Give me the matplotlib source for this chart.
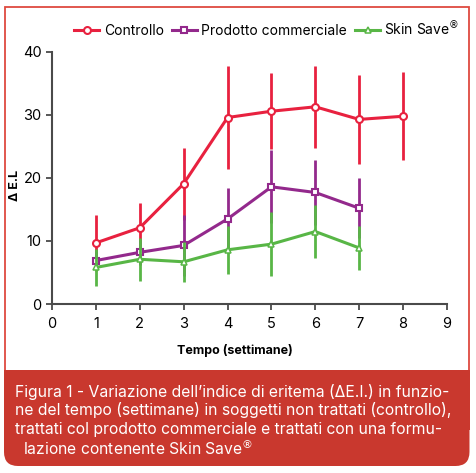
import numpy as np
import matplotlib.pyplot as plt
from matplotlib.patches import Rectangle, FancyBboxPatch
from matplotlib.lines import Line2D

plt.rcParams['font.family'] = ['Inter', 'DejaVu Sans']

# dati
settimane = [1, 2, 3, 4, 5, 6, 7, 8]
controllo = [9.7, 12.1, 19.1, 29.6, 30.6, 31.3, 29.3, 29.8]
controllo_err = [4.4, 4.0, 5.7, 8.1, 6.0, 6.5, 7.0, 7.0]

settimane_pc = [1, 2, 3, 4, 5, 6, 7]
prodotto = [6.9, 8.2, 9.3, 13.5, 18.6, 17.7, 15.2]
prodotto_err = [1.5, 2.0, 4.9, 4.9, 5.8, 5.2, 4.8]

settimane_ss = [1, 2, 3, 4, 5, 6, 7]
skin_save = [5.8, 7.1, 6.7, 8.6, 9.5, 11.5, 8.9]
skin_save_err = [3.0, 3.4, 3.2, 3.8, 5.1, 4.2, 3.5]

serie_labels = ['Controllo', 'Prodotto commerciale', 'Skin Save$^{®}$']
x_ticks = list(range(0, 10))
y_ticks = [0, 10, 20, 30, 40]

caption = ["Figura 1 - Variazione dell\u2019indice di eritema (\u0394E.I.) in funzio-",
           "ne del tempo (settimane) in soggetti non trattati (controllo),",
           "trattati col prodotto commerciale e trattati con una formu-",
           "lazione contenente Skin Save$^{®}$"]

ROSSO = '#E8213F'
VIOLA = '#93298C'
VERDE = '#58B646'
BOX = '#C9382E'

W, H = 476, 473
fig = plt.figure(figsize=(W / 100, H / 100), dpi=100)

# sfondo: cornice e riquadro didascalia (coordinate in pixel)
bg = fig.add_axes([0, 0, 1, 1], zorder=0)
bg.set_xlim(0, W)
bg.set_ylim(H, 0)
bg.axis('off')
bg.add_patch(Rectangle((4.5, 7), 464.5, 370, fill=False, ec='#DE4A40', lw=1.3))
bg.add_patch(Rectangle((4, 370), 465.5, 60, fc=BOX, ec='none'))
bg.add_patch(FancyBboxPatch((4, 400), 465.5, 66, boxstyle='round,pad=0,rounding_size=14',
                            fc=BOX, ec='none'))
righe_y = [392, 410, 429, 448]
righe_x = [15, 15, 15, 23]
for testo, xx, yy in zip(caption, righe_x, righe_y):
    bg.text(xx, yy, testo, color='white', fontsize=11.3, va='center', ha='left')

# grafico
ax = fig.add_axes([52 / W, 1 - 304 / H, (447 - 52) / W, (304 - 52) / H], zorder=1)
ax.patch.set_alpha(0)

ax.errorbar(settimane, controllo, yerr=controllo_err, color=ROSSO, lw=2.2, elinewidth=2,
            marker='o', ms=5, mfc='white', mec=ROSSO, mew=1.5, capsize=0, zorder=2)
ax.errorbar(settimane_pc, prodotto, yerr=prodotto_err, color=VIOLA, lw=2.2, elinewidth=2,
            marker='s', ms=5, mfc='white', mec=VIOLA, mew=1.5, capsize=0, zorder=3)
ax.errorbar(settimane_ss, skin_save, yerr=skin_save_err, color=VERDE, lw=2.2, elinewidth=2,
            marker='^', ms=4, mfc='white', mec=VERDE, mew=1.1, capsize=0, zorder=4)

ax.set_xlim(0, 9)
ax.set_ylim(0, 40)
ax.set_xticks(x_ticks)
ax.set_yticks(y_ticks)
for s in ['top', 'right']:
    ax.spines[s].set_visible(False)
for s in ['left', 'bottom']:
    ax.spines[s].set_color('#4a4a4a')
    ax.spines[s].set_linewidth(1.5)
ax.tick_params(colors='#4a4a4a', labelcolor='black', labelsize=10.5, width=1.3, length=4)
ax.tick_params(axis='x', pad=5)

fig.text(15 / W, 1 - 185 / H, '\u0394 E.L', rotation=90, fontsize=9, fontweight='bold',
         ha='center', va='center')
fig.text(235 / W, 1 - 350 / H, 'Tempo (settimane)', fontsize=9, fontweight='bold',
         ha='center', va='center')

handles = [Line2D([], [], color=ROSSO, lw=2.2, marker='o', ms=5, mfc='white', mec=ROSSO, mew=1.5),
           Line2D([], [], color=VIOLA, lw=2.2, marker='s', ms=5, mfc='white', mec=VIOLA, mew=1.5),
           Line2D([], [], color=VERDE, lw=2.2, marker='^', ms=4, mfc='white', mec=VERDE, mew=1.1)]
fig.legend(handles, serie_labels, loc='center', bbox_to_anchor=(267 / W, 1 - 29 / H), ncol=3,
           frameon=False, fontsize=10, handlelength=1.8, handletextpad=0.3, columnspacing=0.6)

fig.savefig('out.png', dpi=100)
